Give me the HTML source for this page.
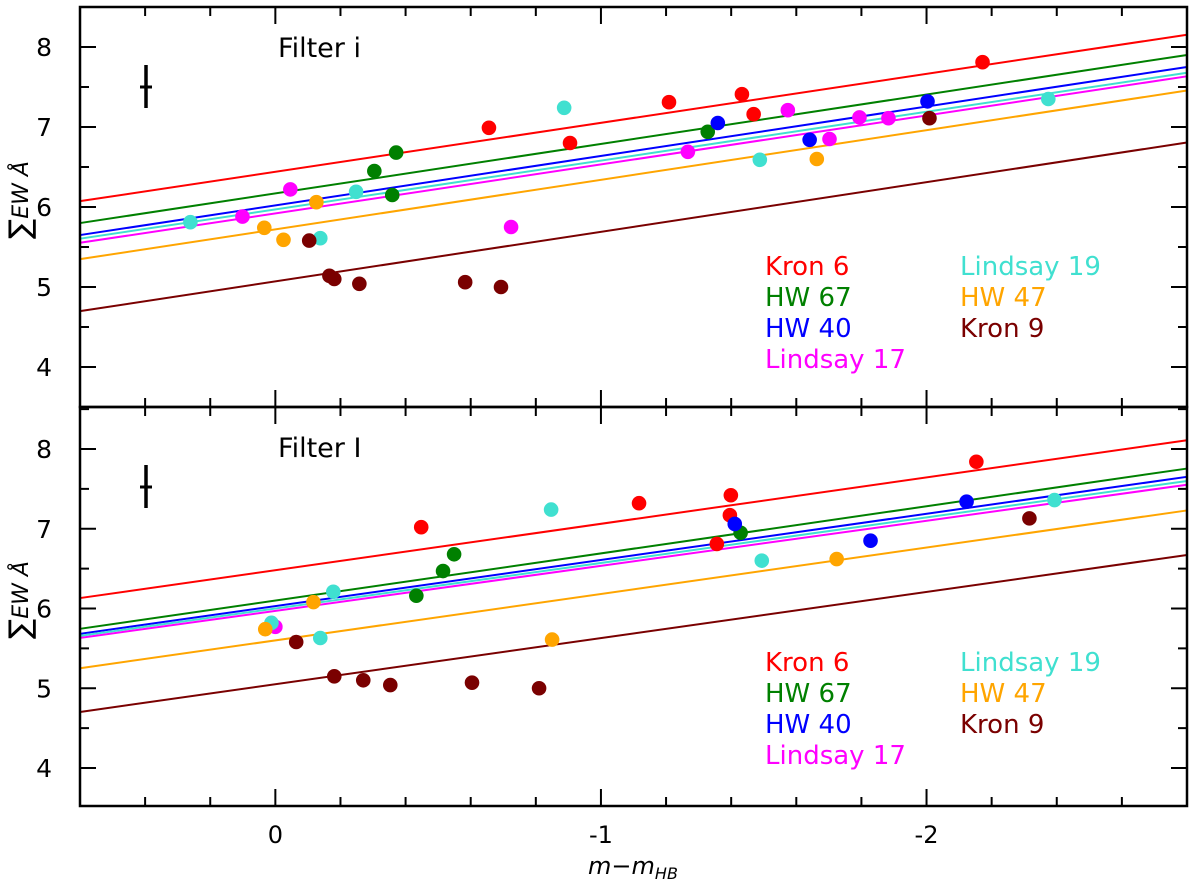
<!DOCTYPE html>
<html><head><meta charset="utf-8"><style>
html,body{margin:0;padding:0;background:#fff;}
svg{display:block;font-family:"DejaVu Sans","Liberation Sans",sans-serif;}
</style></head><body>
<svg id="chart" width="1200" height="885" viewBox="0 0 1200 885" xmlns="http://www.w3.org/2000/svg"></svg>
<script>
const clusters = ["Kron 6","HW 67","HW 40","Lindsay 17","Lindsay 19","HW 47","Kron 9"];
const colors = ["#ff0000","#008000","#0000ff","#ff00ff","#40e0d0","#ffa500","#7a0000"];
const xTicks = [0,-1,-2];
const xTickLabels = ["0","-1","-2"];
const yTicks = [4,5,6,7,8];
// top panel (Filter i) points [x,y]
const topRed = [[-0.656,6.99],[-1.209,7.31],[-1.433,7.41],[-1.469,7.16],[-0.905,6.80],[-2.172,7.81]];
const topGreen = [[-0.304,6.45],[-0.371,6.68],[-0.359,6.15],[-1.328,6.94]];
const topBlue = [[-1.359,7.05],[-1.641,6.84],[-2.003,7.32]];
const topMagenta = [[0.101,5.88],[-0.046,6.22],[-0.724,5.75],[-1.267,6.69],[-1.574,7.21],[-1.702,6.85],[-1.794,7.12],[-1.883,7.11]];
const topCyan = [[0.261,5.81],[-0.138,5.61],[-0.248,6.19],[-0.887,7.24],[-1.488,6.59],[-2.374,7.35]];
const topOrange = [[0.034,5.74],[-0.025,5.59],[-0.126,6.06],[-1.663,6.60]];
const topBrown = [[-0.104,5.58],[-0.166,5.14],[-0.181,5.10],[-0.258,5.04],[-0.583,5.06],[-0.693,5.00],[-2.009,7.11]];
// bottom panel (Filter I)
const botRed = [[-0.448,7.02],[-1.117,7.32],[-1.399,7.42],[-1.396,7.17],[-1.356,6.81],[-2.153,7.84]];
const botGreen = [[-0.433,6.16],[-0.515,6.47],[-0.549,6.68],[-1.429,6.95]];
const botBlue = [[-1.411,7.06],[-1.828,6.85],[-2.123,7.34]];
const botMagenta = [[0.0,5.77]];
const botCyan = [[0.012,5.82],[-0.138,5.63],[-0.178,6.21],[-0.847,7.24],[-1.494,6.60],[-2.393,7.36]];
const botOrange = [[0.031,5.74],[-0.117,6.08],[-0.850,5.61],[-1.724,6.62]];
const botBrown = [[-0.064,5.58],[-0.181,5.15],[-0.270,5.10],[-0.353,5.04],[-0.604,5.07],[-0.810,5.00],[-2.316,7.13]];
// fit lines: intercept, slope (order matches clusters)
const topIntercepts = [6.44,6.17,6.02,5.92,5.97,5.72,5.07];
const topSlopes = [-0.612,-0.618,-0.618,-0.612,-0.610,-0.620,-0.620];
const botIntercepts = [6.48,6.10,6.03,5.97,6.00,5.60,5.05];
const botSlopes = [-0.582,-0.591,-0.579,-0.565,-0.571,-0.582,-0.579];

const NS="http://www.w3.org/2000/svg";
const svg=document.getElementById('chart');
function mk(tag,attrs,parent){const e=document.createElementNS(NS,tag);for(const k in attrs)e.setAttribute(k,attrs[k]);(parent||svg).appendChild(e);return e;}
const X0=80,X1=1187,XMIN=0.6,XMAX=-2.8;
function xs(v){return X0+(v-XMIN)/(XMAX-XMIN)*(X1-X0);}
const panels=[
 {top:7,bot:407,y8:47,k:80,name:'filter-i',title:'Filter i',pts:[topRed,topGreen,topBlue,topMagenta,topCyan,topOrange,topBrown],a:topIntercepts,b:topSlopes,eb:87,legY:266},
 {top:407,bot:806,y8:449,k:79.75,name:'filter-I',title:'Filter I',pts:[botRed,botGreen,botBlue,botMagenta,botCyan,botOrange,botBrown],a:botIntercepts,b:botSlopes,eb:487,legY:662}
];
panels.forEach((p,pi)=>{
 const ys=v=>p.y8+(8-v)*p.k;
 const g=mk('g',{});
 
 
 p.a.forEach((a,i)=>{
  const l=mk('line',{x1:xs(XMIN),y1:ys(a+p.b[i]*XMIN),x2:xs(XMAX),y2:ys(a+p.b[i]*XMAX),stroke:colors[i],'stroke-width':2},g);
  
  
 });
 p.pts.forEach((arr,i)=>{arr.forEach(pt=>{
  const c=mk('circle',{cx:xs(pt[0]),cy:ys(pt[1]),r:7.3,fill:colors[i]},g);
  
  
 });});
 const fr=mk('rect',{x:X0,y:p.top,width:X1-X0,height:p.bot-p.top,fill:'none',stroke:'#000','stroke-width':2.5},g);
 
 
 for(let v=3.5;v<=8.51;v+=0.5){
  const y=ys(v); if(y<p.top+1||y>p.bot-1) continue;
  const major=Math.abs(v-Math.round(v))<0.01; const L=major?16:9;
  mk('line',{x1:X0,y1:y,x2:X0+L,y2:y,stroke:'#000','stroke-width':2},g);
  mk('line',{x1:X1,y1:y,x2:X1-L,y2:y,stroke:'#000','stroke-width':2},g);
 }
 yTicks.forEach(v=>{
  const t=mk('text',{x:52,y:ys(v)+9,'font-size':25,'text-anchor':'end',fill:'#000'},g);
  t.textContent=v;
  
  
 });
 for(let v=0.4;v>=-2.61;v-=0.2){
  const x=xs(v); const major=Math.abs(v-Math.round(v))<0.01; const L=major?17:9;
  mk('line',{x1:x,y1:p.top,x2:x,y2:p.top+L,stroke:'#000','stroke-width':2},g);
  mk('line',{x1:x,y1:p.bot,x2:x,y2:p.bot-L,stroke:'#000','stroke-width':2},g);
 }
 const tt=mk('text',{x:278,y:p.top+50,'font-size':27,fill:'#000'},g);
 tt.textContent=p.title;
 
 
 const ebx=146;
 mk('line',{x1:ebx,y1:p.eb-22,x2:ebx,y2:p.eb+21,stroke:'#000','stroke-width':3.5},g);
 mk('line',{x1:ebx-6,y1:p.eb,x2:ebx+6,y2:p.eb,stroke:'#000','stroke-width':3},g);
 const yl=mk('text',{x:0,y:0,'font-size':26,fill:'#000',transform:`translate(30,${pi==0?200:600}) rotate(-90)`,'text-anchor':'middle'},g);
 yl.innerHTML='<tspan font-size="30">∑</tspan><tspan font-style="italic" font-size="22" dy="-2">EW Å</tspan>';
 
 
 const order=[[0,765,0],[1,765,1],[2,765,2],[3,765,3],[4,960,0],[5,960,1],[6,960,2]];
 order.forEach(o=>{
  const t=mk('text',{x:o[1],y:p.legY+9+o[2]*31,'font-size':26,fill:colors[o[0]]},g);
  t.textContent=clusters[o[0]];
  
  
 });
});
xTicks.forEach((v,i)=>{
 const t=mk('text',{x:xs(v),y:843,'font-size':24,'text-anchor':'middle',fill:'#000'});
 t.textContent=xTickLabels[i];
 
 
});
const xl=mk('text',{x:633,y:874,'font-size':24,'text-anchor':'middle','font-style':'italic',fill:'#000'});
xl.innerHTML='m−m<tspan font-size="16" dy="5">HB</tspan>';


</script>
</body></html>
